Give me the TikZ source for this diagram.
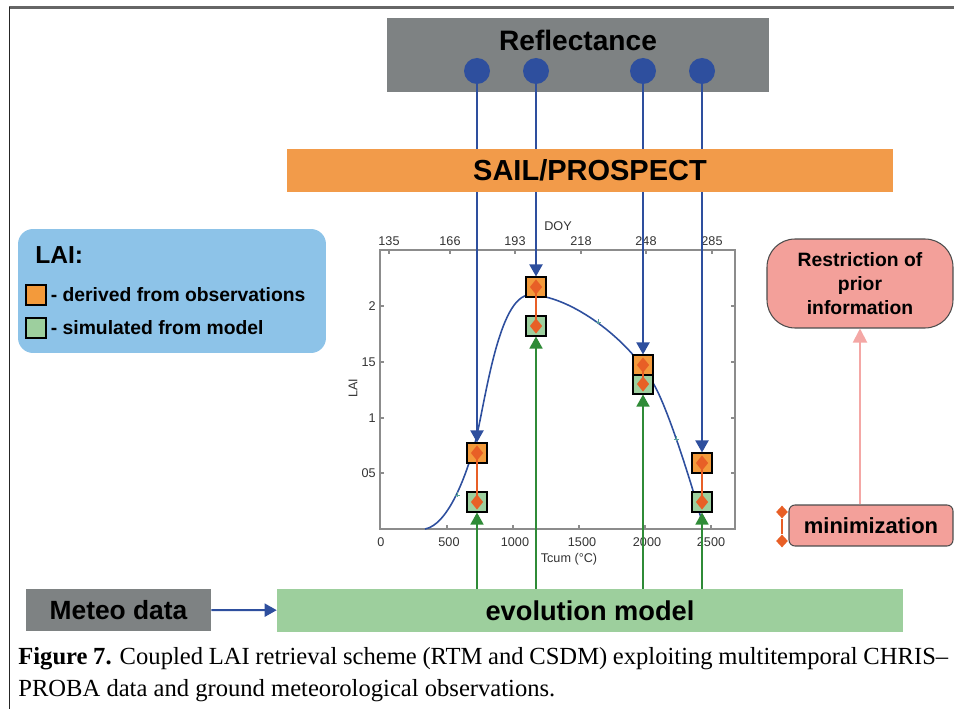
\documentclass[tikz,border=0pt]{standalone}
\usepackage{fontspec}
\setmainfont{Liberation Serif}
\setsansfont{Liberation Sans}
\usepackage{tikz}
\usetikzlibrary{arrows.meta,shapes.geometric,positioning}

\definecolor{framegray}{HTML}{666666}
\definecolor{reflgray}{HTML}{7E8283}
\definecolor{dotblue}{HTML}{2E4F9E}
\definecolor{sailorange}{HTML}{F29B4A}
\definecolor{obsorange}{HTML}{F39A3B}
\definecolor{simgreen}{HTML}{9DCF9E}
\definecolor{diamred}{HTML}{E85F26}
\definecolor{evogreen}{HTML}{9DCF9D}
\definecolor{laiblue}{HTML}{8DC3E8}
\definecolor{priorpink}{HTML}{F3A09A}
\definecolor{arrowgreen}{HTML}{2F8B37}
\definecolor{arrowpink}{HTML}{F4A7A5}
\definecolor{axisgray}{HTML}{8C8C8C}
\definecolor{ticktext}{HTML}{333333}
\definecolor{markteal}{HTML}{5AA39C}

\begin{document}
\begin{tikzpicture}[x=0.02cm, y=-0.02cm]
			\tikzstyle{Band}	= [rectangle, inner sep=0pt]
			\tikzstyle{Title}	= [inner sep=0pt, font=\sffamily\bfseries\fontsize{16}{19}\selectfont]
			\tikzstyle{Lbl}		= [inner sep=0pt, font=\sffamily\bfseries\fontsize{11}{13.7}\selectfont]
			\tikzstyle{TickLbl}	= [inner sep=0pt, text=ticktext, font=\sffamily\fontsize{7.2}{8}\selectfont]
			\tikzstyle{Dot}		= [circle, fill=dotblue, minimum size=0.52cm, inner sep=0pt]
			\tikzstyle{Square}	= [rectangle, draw=black, line width=0.6pt, minimum size=0.4cm, inner sep=0pt]
			\tikzstyle{OBS}		= [fill=obsorange]
			\tikzstyle{SIM}		= [fill=simgreen]
			\tikzstyle{Diam}	= [diamond, fill=diamred, minimum width=0.25cm, minimum height=0.31cm, inner sep=0pt]
			\tikzstyle{Link}	= [line width=1.2pt, diamred]
			\tikzstyle{Axis}	= [line width=0.6pt, axisgray]
			\tikzstyle{Curve}	= [line width=0.9pt, dotblue]
			\tikzstyle{BlueArr}	= [line width=1.1pt, dotblue, -{Triangle[width=0.26cm,length=0.24cm]}]
			\tikzstyle{GreenArr}	= [line width=0.9pt, arrowgreen, -{Triangle[width=0.26cm,length=0.24cm]}]
			\tikzstyle{PinkArr}	= [line width=1.1pt, arrowpink, -{Triangle[width=0.28cm,length=0.28cm]}]

			\useasboundingbox (0,0) rectangle (954,709);

			% frame of the figure
			\draw [line width=1.4pt, framegray] (9,7.5) -- (954,7.5);
			\draw [line width=0.9pt, black!85] (9.5,7) -- (9.5,709);

			% reflectance with the four bands
			\node (refl) at (578,55) [Band][fill=reflgray, minimum width=7.64cm, minimum height=1.48cm] {};
			\node (refltxt) [below=0.24cm of refl.north][Title] {Reflectance};
			\node (c1) at (477,71) [Dot] {};
			\node (c2) at (536,71) [Dot] {};
			\node (c3) at (643,71) [Dot] {};
			\node (c4) at (702,71) [Dot] {};

			% legend
			\node (legend) at (172,291) [Band][fill=laiblue, rounded corners=0.3cm, minimum width=6.16cm, minimum height=2.48cm] {};
			\node (laitxt) at (35,255) [anchor=west][Lbl][font=\sffamily\bfseries\fontsize{14}{16}\selectfont] {LAI:};
			\node (lo) at (36,295) [Square][OBS] {};
			\node (lg) at (36,328) [Square][SIM] {};
			\node (lotxt) [right=0.08cm of lo][Lbl] {- derived from observations};
			\node (lgtxt) [right=0.08cm of lg][Lbl] {- simulated from model};

			% LAI plot
			\draw [Axis] (380,250) rectangle (735,529);
			\foreach \ty/\tl in {306/2, 362/15, 418/1, 473/05} {
				\draw [Axis] (380,\ty) -- (384,\ty);
				\draw [Axis] (735,\ty) -- (731,\ty);
				\node (yl\tl) at (376,\ty) [TickLbl][anchor=east] {\tl};
			}
			\foreach \tx in {447, 513, 579, 645, 711} {
				\draw [Axis] (\tx,529) -- (\tx,525);
			}
			\foreach \lx/\tl in {381/0, 449/500, 515/1000, 582/1500, 647/2000, 711/2500} {
				\node (xl\tl) at (\lx,542) [TickLbl] {\tl};
			}
			\foreach \tx/\tl in {389/135, 450/166, 515/193, 581/218, 646/248, 712/285} {
				\draw [Axis] (\tx,250) -- (\tx,254);
				\node (dl\tl) at (\tx,241) [TickLbl] {\tl};
			}
			\node (doy) at (558,226) [TickLbl] {DOY};
			\node (tcum) at (569,559) [TickLbl] {Tcum (°C)};
			\node (lai) at (353,388) [TickLbl][rotate=90] {LAI};

			\draw [Curve] (425,529) .. controls (447,525) and (465,480) .. (475,443)
				.. controls (485,405) and (498,295) .. (530,295)
				.. controls (570,295) and (630,340) .. (653,383)
				.. controls (668,407) and (695,495) .. (702,522);
			\foreach \mx/\my in {457/495, 598/322, 676/439} {
				\draw [markteal, line width=0.4pt] (\mx-2.5,\my) -- (\mx+2.5,\my) (\mx,\my-2.5) -- (\mx,\my+2.5);
			}

			% derived (orange) and simulated (green) LAI
			\node (o1) at (477,453) [Square][OBS] {};
			\node (g1) at (477,502) [Square][SIM] {};
			\node (o2) at (536,287) [Square][OBS] {};
			\node (g2) at (536,326) [Square][SIM] {};
			\node (g3) at (643,384) [Square][SIM] {};
			\node (o3) at (643,365) [Square][OBS] {};
			\node (o4) at (702,463) [Square][OBS] {};
			\node (g4) at (702,502) [Square][SIM] {};

			\draw [-] (o1.center) to (g1.center) [Link];
			\draw [-] (o2.center) to (g2.center) [Link];
			\draw [-] (o3.center) to (g3.center) [Link];
			\draw [-] (o4.center) to (g4.center) [Link];

			\node (od1) at (o1) [Diam] {};
			\node (gd1) at (g1) [Diam] {};
			\node (od2) at (o2) [Diam] {};
			\node (gd2) at (g2) [Diam] {};
			\node (od3) at (o3) [Diam] {};
			\node (gd3) at (g3) [Diam] {};
			\node (od4) at (o4) [Diam] {};
			\node (gd4) at (g4) [Diam] {};

			% reflectance through the RTM
			\draw (c1) to (o1.north) [BlueArr];
			\draw (c2) to (o2.north) [BlueArr];
			\draw (c3) to (o3.north) [BlueArr];
			\draw (c4) to (o4.north) [BlueArr];

			\node (sail) at (590,170.5) [Band][fill=sailorange, minimum width=12.12cm, minimum height=0.86cm] {};
			\node (sailtxt) at (sail) [Title][font=\sffamily\bfseries\fontsize{16.5}{19}\selectfont] {SAIL/PROSPECT};

			% crop model
			\node (meteo) at (118.5,610) [Band][fill=reflgray, minimum width=3.7cm, minimum height=0.84cm] {};
			\node (meteotxt) at (meteo) [Title][font=\sffamily\bfseries\fontsize{15}{18}\selectfont] {Meteo data};
			\node (evo) at (590,610.5) [Band][fill=evogreen, minimum width=12.52cm, minimum height=0.86cm] {};
			\node (evotxt) at (evo) [Title][font=\sffamily\bfseries\fontsize{15.5}{18}\selectfont] {evolution model};
			\draw (meteo) to (evo) [BlueArr];

			\draw (evo.north -| g1) to (g1.south) [GreenArr];
			\draw (evo.north -| g2) to (g2.south) [GreenArr];
			\draw (evo.north -| g3) to (g3.south) [GreenArr];
			\draw (evo.north -| g4) to (g4.south) [GreenArr];

			% cost function
			\node (prior) at (860,283.5) [Band][fill=priorpink, draw=black!70, line width=0.6pt, rounded corners=0.56cm, minimum width=3.72cm, minimum height=1.78cm, align=center][Lbl] {Restriction of\\prior\\information};
			\node (minbox) at (871,525.5) [Band][fill=priorpink, draw=black!70, line width=0.6pt, rounded corners=0.12cm, minimum width=3.28cm, minimum height=0.82cm][Lbl][font=\sffamily\bfseries\fontsize{12.5}{15}\selectfont] {minimization};
			\draw (prior.south |- minbox.north) to (prior.south) [PinkArr];

			\node (mk1) at (782,512) [Diam][minimum width=0.24cm, minimum height=0.26cm] {};
			\node (mk2) at (782,541) [Diam][minimum width=0.24cm, minimum height=0.26cm] {};
			\draw [-] (mk1) to (mk2) [Link];

			% caption
			\node (caption) at (18,647) [anchor=north west, inner sep=0pt, align=left, font=\fontsize{14}{18.2}\selectfont] {\makebox[18.6cm][s]{\textbf{Figure 7.} Coupled LAI retrieval scheme (RTM and CSDM) exploiting multitemporal CHRIS--}\\PROBA data and ground meteorological observations.};
\end{tikzpicture}
\end{document}
